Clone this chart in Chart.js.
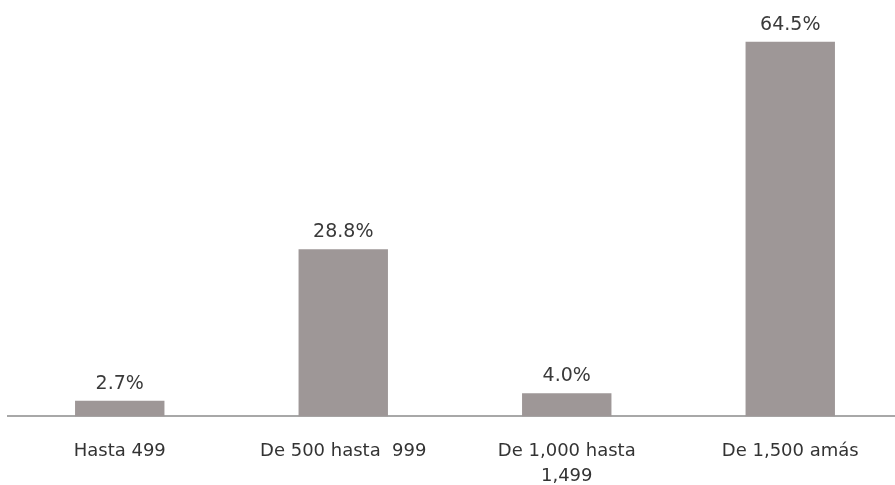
<!DOCTYPE html>
<html>
<head>
<meta charset="utf-8">
<script src="https://cdn.jsdelivr.net/npm/chart.js@4"></script>
<style>
  html, body { margin: 0; padding: 0; background: #fff; overflow: hidden; }
  #wrap { width: 902px; height: 511px; }
</style>
</head>
<body>
<div id="wrap"><canvas id="chart"></canvas></div>
<script>
var categories = ['Hasta 499', 'De 500 hasta  999', ['De 1,000 hasta', '1,499'], 'De 1,500 amás'];
var values = [2.7, 28.8, 4.0, 64.5];
var valueLabels = ['2.7%', '28.8%', '4.0%', '64.5%'];

// labels above bars
var barLabels = {
    id: 'barLabels',
    afterDatasetsDraw: function(chart){
        var ctx = chart.ctx;
        var meta = chart.getDatasetMeta(0);
        ctx.save();
        ctx.font = '19px "DejaVu Sans"';
        ctx.fillStyle = '#3a3a3a';
        ctx.textAlign = 'center';
        ctx.textBaseline = 'alphabetic';
        meta.data.forEach(function(bar, i){
            ctx.fillText(valueLabels[i], bar.x, bar.y - 12);
        });
        ctx.restore();
    }
};

var ctx = document.getElementById('chart');
new Chart(ctx, {
    type: 'bar',
    data: {
        labels: categories,
        datasets: [{
            data: values,
            backgroundColor: 'rgb(158, 151, 151)',
            barPercentage: 0.4,
            categoryPercentage: 1.0
        }]
    },
    options: {
        responsive: true,
        maintainAspectRatio: false,
        animation: false,
        layout: { padding: { left: 8, right: 0, top: 0, bottom: 0 } },
        plugins: {
            legend: { display: false },
            tooltip: { enabled: false }
        },
        scales: {
            x: {
                grid: { display: false, drawTicks: false },
                border: { display: true, color: '#a8a8a8', width: 2 },
                ticks: {
                    color: '#333',
                    font: { family: 'DejaVu Sans', size: 18, lineHeight: 1.35 },
                    padding: 23,
                    maxRotation: 0,
                    autoSkip: false
                }
            },
            y: {
                display: false,
                min: 0,
                max: 71.7
            }
        }
    },
    plugins: [barLabels]
});
</script>
</body>
</html>
